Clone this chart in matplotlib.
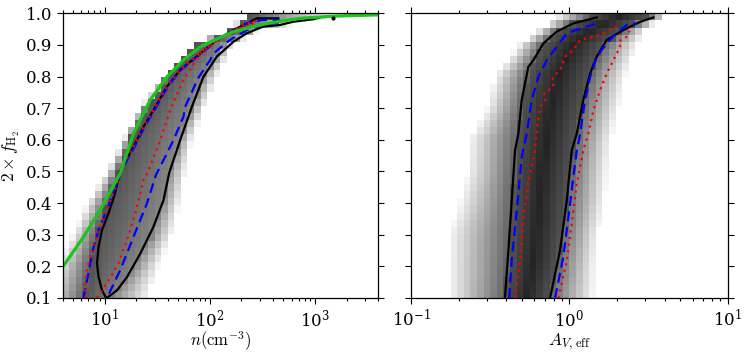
import numpy as np
import matplotlib
matplotlib.use("Agg")
import matplotlib.pyplot as plt

plt.rcParams['font.family'] = 'DejaVu Serif'
plt.rcParams['mathtext.fontset'] = 'dejavuserif'
plt.rcParams['font.size'] = 12

# ---- histogram band description (log10 x at each y knot) ----
knot_y = np.array([0.10, 0.20, 0.30, 0.40, 0.50, 0.60, 0.70, 0.80, 0.90, 0.95, 1.00])

# left panel: log10 n
n_lo = np.array([0.45, 0.55, 0.70, 0.84, 1.03, 1.18, 1.33, 1.58, 1.85, 2.18, 2.40])
n_core_lo = np.array([0.80, 0.86, 0.92, 1.02, 1.13, 1.24, 1.40, 1.60, 1.88, 2.22, 2.42])
n_core_hi = np.array([1.08, 1.30, 1.46, 1.56, 1.62, 1.72, 1.83, 1.94, 2.13, 2.40, 2.70])
n_hi = np.array([1.41, 1.51, 1.64, 1.71, 1.77, 1.83, 1.94, 2.07, 2.22, 2.48, 3.36])

# right panel: log10 A_V,eff
av_lo = np.array([-0.76, -0.76, -0.76, -0.69, -0.64, -0.63, -0.52, -0.47, -0.32, -0.19, -0.05])
av_core_lo = np.array([-0.41, -0.39, -0.375, -0.364, -0.35, -0.33, -0.305, -0.265, -0.17, -0.07, 0.17])
av_core_hi = np.array([-0.125, -0.075, -0.04, -0.016, 0.008, 0.04, 0.078, 0.125, 0.215, 0.35, 0.55])
av_hi = np.array([0.15, 0.16, 0.18, 0.22, 0.24, 0.26, 0.31, 0.35, 0.43, 0.48, 0.64])

# ---- contour lines, left panel (log10 n, 2 f_H2) ----
n_black = np.array([2.652, 2.447, 2.352, 2.225, 2.067, 1.911, 1.719, 1.593, 1.465, 1.370, 1.275,
                    1.150, 1.100, 1.038, 0.975, 0.943, 0.928, 0.943, 0.975, 1.007, 1.020,
                    1.118, 1.213, 1.339, 1.465, 1.560, 1.616, 1.719, 1.830, 1.940, 2.067,
                    2.225, 2.352, 2.510, 2.668, 2.790, 2.980, 3.049])
f_black = np.array([0.984, 0.984, 0.968, 0.947, 0.916, 0.873, 0.821, 0.768, 0.694, 0.641, 0.578,
                    0.504, 0.431, 0.368, 0.314, 0.261, 0.210, 0.167, 0.125, 0.105, 0.100,
                    0.124, 0.166, 0.240, 0.325, 0.409, 0.497, 0.599, 0.704, 0.799, 0.863,
                    0.910, 0.937, 0.958, 0.963, 0.973, 0.981, 0.987])

n_blue = np.array([0.800, 0.833, 0.864, 0.896, 0.943, 1.007, 1.070, 1.133, 1.160, 1.285, 1.380,
                   1.475, 1.600, 1.725, 1.920, 2.075, 2.230, 2.360, 2.500, 2.637, 2.700,
                   2.510, 2.352, 2.194, 2.035, 2.004, 1.890, 1.766, 1.750, 1.655, 1.593,
                   1.490, 1.403, 1.275, 1.149, 1.023])
f_blue = np.array([0.100, 0.156, 0.209, 0.261, 0.314, 0.367, 0.420, 0.473, 0.504, 0.578, 0.641,
                   0.694, 0.768, 0.821, 0.873, 0.916, 0.947, 0.968, 0.979, 0.979, 0.973,
                   0.963, 0.947, 0.916, 0.873, 0.852, 0.795, 0.704, 0.673, 0.599, 0.557,
                   0.490, 0.399, 0.293, 0.188, 0.100])

n_red = np.array([0.817, 0.817, 0.848, 0.896, 0.943, 1.007, 1.070, 1.133, 1.150, 1.275, 1.370,
                  1.465, 1.593, 1.719, 1.911, 2.067, 2.225, 2.352, 2.450, 2.415, 2.289,
                  2.099, 1.909, 1.750, 1.624, 1.529, 1.415, 1.370, 1.292, 1.213, 1.133,
                  1.038, 0.975, 0.928])
f_red = np.array([0.100, 0.156, 0.209, 0.261, 0.314, 0.367, 0.420, 0.473, 0.504, 0.578, 0.641,
                  0.694, 0.768, 0.821, 0.873, 0.916, 0.947, 0.968, 0.975, 0.968, 0.953,
                  0.921, 0.873, 0.789, 0.694, 0.599, 0.500, 0.473, 0.367, 0.283, 0.209,
                  0.156, 0.124, 0.100])

n_green = np.array([0.602, 0.800, 0.959, 1.149, 1.275, 1.434, 1.593, 1.750, 1.909, 2.225,
                    2.542, 2.859, 3.175, 3.600])
f_green = np.array([0.198, 0.293, 0.378, 0.494, 0.620, 0.726, 0.799, 0.852, 0.894, 0.942,
                    0.968, 0.984, 0.991, 0.995])

n_dot, f_dot = 3.17, 0.984

# ---- contour lines, right panel (log10 A_V,eff, 2 f_H2) ----
av_black_l = np.array([-0.407, -0.385, -0.364, -0.343, -0.322, -0.301, -0.259, -0.227, -0.164, -0.080, 0.025, 0.173])
f_black_l = np.array([0.100, 0.251, 0.410, 0.567, 0.620, 0.726, 0.831, 0.852, 0.905, 0.942, 0.968, 0.987])
av_black_r = np.array([-0.122, -0.059, -0.016, 0.015, 0.047, 0.088, 0.131, 0.173, 0.236, 0.341, 0.447, 0.531])
f_black_r = np.array([0.100, 0.251, 0.410, 0.567, 0.620, 0.726, 0.810, 0.863, 0.916, 0.947, 0.973, 0.987])

av_blue_l = np.array([-0.380, -0.364, -0.343, -0.322, -0.301, -0.269, -0.238, -0.196, -0.143, -0.080, -0.016, 0.110, 0.194])
f_blue_l = np.array([0.100, 0.219, 0.325, 0.430, 0.546, 0.620, 0.726, 0.799, 0.852, 0.894, 0.937, 0.958, 0.970])
av_blue_r = np.array([-0.090, -0.038, -0.006, 0.025, 0.047, 0.068, 0.099, 0.131, 0.173, 0.236, 0.299, 0.362, 0.425])
f_blue_r = np.array([0.100, 0.231, 0.356, 0.483, 0.567, 0.620, 0.726, 0.799, 0.863, 0.905, 0.937, 0.963, 0.968])

av_red_l = np.array([-0.343, -0.311, -0.290, -0.259, -0.217, -0.205, -0.185, -0.153, -0.160, -0.101, -0.110,
                     -0.048, -0.027, 0.025, 0.068, 0.152, 0.236, 0.320])
f_red_l = np.array([0.100, 0.219, 0.356, 0.462, 0.567, 0.640, 0.704, 0.726, 0.745, 0.768, 0.790,
                    0.831, 0.863, 0.884, 0.916, 0.926, 0.942, 0.963])
av_red_r = np.array([-0.069, -0.016, 0.015, 0.047, 0.088, 0.120, 0.152, 0.194, 0.236, 0.278, 0.320,
                     0.310, 0.340, 0.362, 0.380])
f_red_r = np.array([0.100, 0.219, 0.335, 0.462, 0.567, 0.620, 0.694, 0.757, 0.810, 0.852, 0.894,
                    0.910, 0.920, 0.926, 0.945])

y_ticks = [0.1, 0.2, 0.3, 0.4, 0.5, 0.6, 0.7, 0.8, 0.9, 1.0]


def band_image(xe, ye, lo, clo, chi, hi, peak, s0, slope):
    # gray level of each cell: darkest at fraction s0 of the core, fading to the band edges
    xc = 0.5 * (xe[1:] + xe[:-1])
    yc = 0.5 * (ye[1:] + ye[:-1])
    X, Y = np.meshgrid(xc, yc)
    L = np.interp(Y, knot_y, lo)
    CL = np.interp(Y, knot_y, clo)
    CH = np.interp(Y, knot_y, chi)
    H = np.interp(Y, knot_y, hi)
    s = (X - CL) / (CH - CL)
    core = peak * (1 - slope * np.abs(np.clip(s, 0, 1) - s0))
    t_left = (X - L) / (CL - L)
    t_right = (H - X) / (H - CH)
    t = np.where(s < 0, t_left, np.where(s > 1, t_right, 1.0))
    v = np.where((s >= 0) & (s <= 1), core, core * 0.88 * np.clip(t, 0, 1) + 0.03)
    return np.ma.masked_where(t <= 0, v)


fig = plt.figure(figsize=(7.48, 3.55), dpi=100)
ax1 = fig.add_axes([0.0838, 0.1606, 0.4219, 0.802])
ax2 = fig.add_axes([0.5495, 0.1606, 0.4234, 0.802])

ye = np.linspace(0.1, 1.0, 41)

# left panel
xe1 = np.arange(0.6, 3.61, 0.0625)
img1 = band_image(xe1, ye, n_lo, n_core_lo, n_core_hi, n_hi, 0.68, 0.0, 0.3)
ax1.pcolormesh(10 ** xe1, ye, img1, cmap='gray_r', vmin=0, vmax=1, shading='flat')
ax1.plot(10 ** n_black, f_black, color='black', lw=1.6)
ax1.plot(10 ** n_blue, f_blue, color='blue', lw=1.6, ls=(0, (4.5, 2.5)))
ax1.plot(10 ** n_red, f_red, color='red', lw=1.6, ls=(0, (1, 2)))
ax1.plot(10 ** n_green, f_green, color='#1ec31e', lw=2.3)
ax1.plot(10 ** n_dot, f_dot, 'k.', ms=4)
ax1.set_xscale('log')
ax1.set_xlim(4, 4000)
ax1.set_ylim(0.1, 1.0)
ax1.set_xlabel(r'$n({\rm cm^{-3}})$', fontsize=12, math_fontfamily='cm', labelpad=-1)
ax1.set_ylabel(r'$2\times f_{\rm H_2}$', fontsize=12.5, math_fontfamily='cm', labelpad=3)

# right panel
xe2 = np.linspace(-1, 1, 49)
img2 = band_image(xe2, ye, av_lo, av_core_lo, av_core_hi, av_hi, 0.86, 0.5, 0.45)
ax2.pcolormesh(10 ** xe2, ye, img2, cmap='gray_r', vmin=0, vmax=1, shading='flat')
ax2.plot(10 ** av_black_l, f_black_l, color='black', lw=1.6)
ax2.plot(10 ** av_black_r, f_black_r, color='black', lw=1.6)
ax2.plot(10 ** av_blue_l, f_blue_l, color='blue', lw=1.6, ls=(0, (4.5, 2.5)))
ax2.plot(10 ** av_blue_r, f_blue_r, color='blue', lw=1.6, ls=(0, (4.5, 2.5)))
ax2.plot(10 ** av_red_l, f_red_l, color='red', lw=1.6, ls=(0, (1, 2)))
ax2.plot(10 ** av_red_r, f_red_r, color='red', lw=1.6, ls=(0, (1, 2)))
ax2.set_xscale('log')
ax2.set_xlim(0.1, 10)
ax2.set_ylim(0.1, 1.0)
ax2.set_xlabel(r'$A_{V,\,{\rm eff}}$', fontsize=12.5, math_fontfamily='cm', labelpad=1)

for ax in (ax1, ax2):
    ax.set_yticks(y_ticks)
    ax.set_yticklabels(['%.1f' % v for v in y_ticks])
    ax.tick_params(which='both', direction='out', top=True, right=True, width=0.8)
    ax.tick_params(which='major', length=4.5, pad=3)
    ax.tick_params(which='minor', length=2.5)
    for s in ax.spines.values():
        s.set_linewidth(0.9)
ax2.tick_params(labelleft=False)

fig.savefig('out.png', dpi=100)
